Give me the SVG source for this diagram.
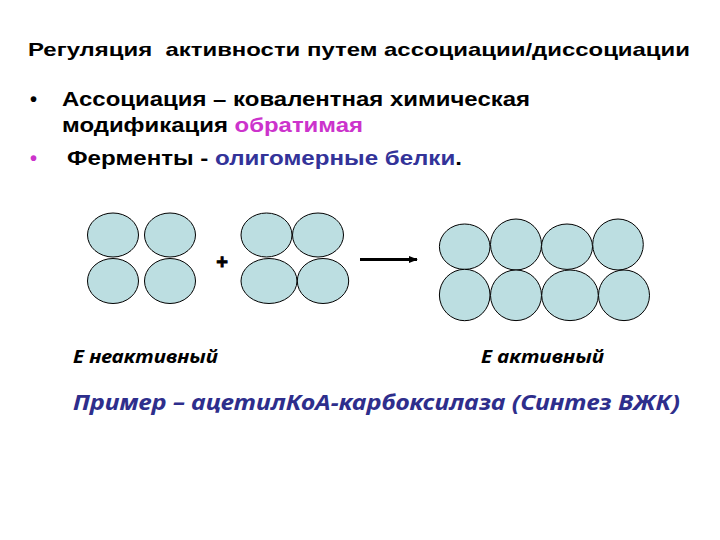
<svg xmlns="http://www.w3.org/2000/svg" width="720" height="540" viewBox="0 0 720 540">
<style>
.t{font-family:"Liberation Sans",Arial,sans-serif;font-weight:bold;fill:#000}
.c{fill:#BCDEE1;stroke:#000;stroke-width:1}
.i{font-family:"Noto Sans","Liberation Sans",sans-serif;font-style:italic;font-weight:bold}
</style>
<defs>
<marker id="ah" viewBox="0 0 10 10" refX="9" refY="5" markerWidth="3" markerHeight="3" orient="auto"><path d="M0,1 L10,5 L0,9 z" fill="#000"/></marker>
</defs>
<rect width="720" height="540" fill="#fff"/>
<g id="title"><text class="t" x="28" y="56" font-size="18.5" textLength="662" lengthAdjust="spacingAndGlyphs" xml:space="preserve">Регуляция  активности путем ассоциации/диссоциации</text></g>
<g id="bullets">
<text class="t" x="30" y="106" font-size="20">•</text>
<text class="t" x="62" y="106" font-size="20" textLength="468" lengthAdjust="spacingAndGlyphs">Ассоциация – ковалентная химическая</text>
<text class="t" x="62" y="132" font-size="20" textLength="301" lengthAdjust="spacingAndGlyphs">модификация <tspan style="fill:#CC33CC">обратимая</tspan></text>
<text class="t" x="30" y="165" font-size="20" style="fill:#CC33CC">•</text>
<text class="t" x="67" y="165" font-size="20" textLength="395" lengthAdjust="spacingAndGlyphs">Ферменты - <tspan style="fill:#333399">олигомерные белки</tspan>.</text>
</g>
<g id="enzyme-inactive-1">
<ellipse class="c" cx="113" cy="235" rx="25.5" ry="22"/>
<ellipse class="c" cx="170" cy="235" rx="25.5" ry="22"/>
<ellipse class="c" cx="113" cy="281" rx="25.5" ry="22.5"/>
<ellipse class="c" cx="170" cy="281" rx="25.5" ry="22.5"/>
</g>
<g id="plus"><text class="t" x="222" y="269" font-size="20" text-anchor="middle" stroke="#000" stroke-width="0.8">+</text></g>
<g id="enzyme-inactive-2">
<ellipse class="c" cx="266.5" cy="235" rx="25.5" ry="22"/>
<ellipse class="c" cx="318" cy="235" rx="25.5" ry="22"/>
<ellipse class="c" cx="269" cy="281" rx="28" ry="22.5"/>
<ellipse class="c" cx="323" cy="281" rx="25.7" ry="22.5"/>
</g>
<g id="connectors">
<line x1="360" y1="259.5" x2="417" y2="259.5" stroke="#000" stroke-width="3" marker-end="url(#ah)"/>
</g>
<g id="enzyme-active">
<ellipse class="c" cx="464.7" cy="246.7" rx="25.3" ry="22.7"/>
<ellipse class="c" cx="516" cy="244.5" rx="25.5" ry="25.5"/>
<ellipse class="c" cx="567" cy="246.7" rx="25.5" ry="22.7"/>
<ellipse class="c" cx="618" cy="244.5" rx="25.3" ry="25.5"/>
<ellipse class="c" cx="464.7" cy="295" rx="25.3" ry="25.7"/>
<ellipse class="c" cx="516" cy="295.3" rx="25.5" ry="25.3"/>
<ellipse class="c" cx="570" cy="295.3" rx="28.3" ry="25.3"/>
<ellipse class="c" cx="624" cy="295.3" rx="25.5" ry="25.3"/>
</g>
<g id="labels">
<text class="i" x="73" y="363" font-size="18" fill="#000" textLength="145" lengthAdjust="spacingAndGlyphs">Е неактивный</text>
<text class="i" x="481" y="363" font-size="18" fill="#000" textLength="123" lengthAdjust="spacingAndGlyphs">Е активный</text>
<text class="i" x="73" y="410" font-size="21" fill="#2E2E8C" textLength="607" lengthAdjust="spacingAndGlyphs">Пример – ацетилКоА-карбоксилаза (Синтез ВЖК)</text>
</g>
</svg>
